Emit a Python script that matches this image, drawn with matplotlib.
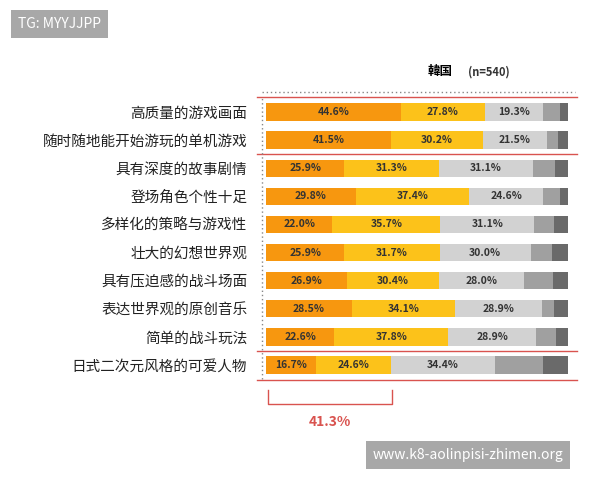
import matplotlib
matplotlib.use("Agg")
import matplotlib.pyplot as plt
import numpy as np

plt.rcParams['font.family'] = ['Noto Sans CJK SC', 'DejaVu Sans']

categories = ["高质量的游戏画面", "随时随地能开始游玩的单机游戏", "具有深度的故事剧情", "登场角色个性十足",
              "多样化的策略与游戏性", "壮大的幻想世界观", "具有压迫感的战斗场面", "表达世界观的原创音乐",
              "简单的战斗玩法", "日式二次元风格的可爱人物"]
s1 = [44.6, 41.5, 25.9, 29.8, 22.0, 25.9, 26.9, 28.5, 22.6, 16.7]
s2 = [27.8, 30.2, 31.3, 37.4, 35.7, 31.7, 30.4, 34.1, 37.8, 24.6]
s3 = [19.3, 21.5, 31.1, 24.6, 31.1, 30.0, 28.0, 28.9, 28.9, 34.4]
s4 = [5.7, 3.4, 7.5, 5.4, 6.7, 7.2, 9.8, 4.0, 6.8, 16.0]
s5 = [2.6, 3.4, 4.2, 2.8, 4.5, 5.2, 4.9, 4.5, 3.9, 8.3]
colors = ["#F7970F", "#FCC21A", "#D2D2D2", "#A0A0A0", "#6A6A6A"]

fig = plt.figure(figsize=(6, 4.8), dpi=100)
ax = fig.add_axes([266/600, 1-379/480, 302/600, 281/480])
y = np.arange(len(categories))
left = np.zeros(len(categories))
for i, s in enumerate([s1, s2, s3, s4, s5]):
    s = np.array(s)
    ax.barh(y, s, left=left, height=0.62, color=colors[i])
    if i < 3:
        for yy, l, v in zip(y, left, s):
            ax.text(l + v/2, yy, f"{v:.1f}%", ha='center', va='center', fontsize=7.5,
                    color='#333333', fontweight='bold', family='DejaVu Sans Condensed' if False else None)
    left += s
ax.set_xlim(0, 100)
ax.set_ylim(len(categories)-0.5, -0.5)
ax.set_yticks(y)
ax.set_yticklabels(categories, fontsize=10.5, color='#222222')
ax.tick_params(left=False, bottom=False, labelbottom=False, pad=10)
for sp in ax.spines.values():
    sp.set_visible(False)
for yl in [-0.55, 1.5, 8.5, 9.55]:
    ax.axhline(yl, xmin=-0.03, xmax=1.03, color='#D9534F', lw=1, clip_on=False)
ax.axvline(-1.2, color='#888888', lw=1, ls=(0, (1, 2)), clip_on=False)

fig.text(440/600, 1-72/480, "韓国", fontsize=9, fontweight='bold', ha='center', va='center')
fig.text(468/600, 1-72/480, "(n=540)", fontsize=8, fontweight='bold', ha='left', va='center', color='#333333')
fig.lines.append(plt.Line2D([262/600, 575/600], [1-92/480]*2, transform=fig.transFigure,
                            color='#888888', lw=1, ls=(0, (1, 2))))
# bracket
bx0, bx1, by = 268/600, 392/600, 1-404/480
fig.lines.append(plt.Line2D([bx0, bx0, bx1, bx1], [1-390/480, by, by, 1-390/480],
                            transform=fig.transFigure, color='#D9534F', lw=1))
fig.text(330/600, 1-422/480, "41.3%", color='#D9534F', fontsize=10, fontweight='bold', ha='center', va='center')
fig.text(18/600, 1-24/480, "TG: MYYJJPP", color='white', fontsize=10, va='center',
         bbox=dict(boxstyle='square,pad=0.5', fc='#A8A8A8', ec='none'))
fig.text(468/600, 1-455/480, "www.k8-aolinpisi-zhimen.org", color='white', fontsize=10, va='center', ha='center',
         bbox=dict(boxstyle='square,pad=0.5', fc='#A8A8A8', ec='none'))
fig.savefig("out.png", dpi=100)
